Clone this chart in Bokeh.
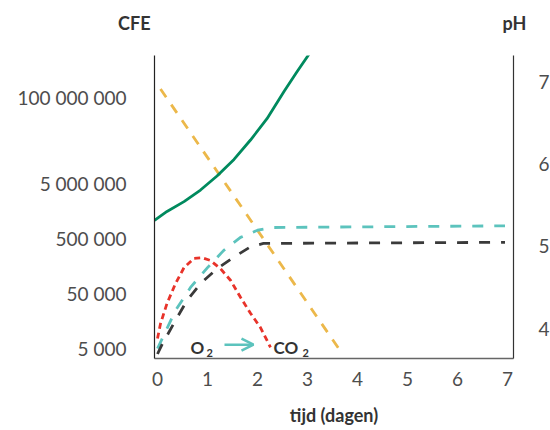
import numpy as np
from bokeh.plotting import figure
from bokeh.layouts import column
from bokeh.models import LinearAxis, Range1d, FixedTicker, Label, Arrow, OpenHead
from bokeh.embed import file_html
from bokeh.resources import INLINE

# ---------------- data ----------------
day_ticks = [0, 1, 2, 3, 4, 5, 6, 7]
cfe_tick_values = [5000, 50000, 500000, 5000000, 100000000]
cfe_tick_labels = ["5 000", "50 000", "500 000", "5 000 000", "100 000 000"]
cfe_axis_levels = [0, 1, 2, 3, 4.56]   # stylised (non-uniform) CFE axis
ph_ticks = [4, 5, 6, 7]
left_title = "CFE"
right_title = "pH"

green_days = [-0.06, 0.19, 0.53, 0.86, 1.19, 1.53, 1.86, 2.19, 2.53, 2.79, 3.03]
green_cfe = [1070000, 1550000, 2340000, 3800000, 6500000, 11600000,
             22800000, 48000000, 124000000, 247000000, 456000000]

teal_days = [0.0, 0.36, 0.66, 1.0, 1.32, 1.66, 2.0, 2.32, 6.95]
teal_cfe = [5000, 24500, 64400, 147600, 301000, 524000, 706000, 792000, 849000]

black_days = [0.0, 0.09, 0.36, 0.59, 0.86, 1.19, 1.53, 1.86, 2.12, 6.95]
black_cfe = [3970, 5870, 16200, 37100, 75700, 141000, 229000, 354000, 406000, 426000]

red_days = [0.0, 0.06, 0.19, 0.36, 0.53, 0.73, 0.89, 1.06, 1.26, 1.46, 1.66, 1.86, 2.06, 2.26]
red_cfe = [7570, 14100, 33000, 75700, 147600, 218000, 223000, 199000, 141000,
           86900, 42600, 21800, 12000, 5240]

ph_days = [0.06, 3.62]
ph_values = [6.91, 3.76]

# ---------------- helpers ----------------
def cfe_to_level(v):
    lv = np.log10(np.asarray(v, dtype=float))
    lt = np.log10(cfe_tick_values)
    lev = np.asarray(cfe_axis_levels, dtype=float)
    out = np.interp(lv, lt, lev)
    hi = lv > lt[-1]
    out[hi] = lev[-1] + (lv[hi] - lt[-1]) * (lev[-1] - lev[-2]) / (lt[-1] - lt[-2])
    lo = lv < lt[0]
    out[lo] = lev[0] + (lv[lo] - lt[0]) * (lev[1] - lev[0]) / (lt[1] - lt[0])
    return out

FONT = "Lato"
LABEL_COLOR = "#4d4d4d"
DARK = "#333333"
GREEN = "#008a5e"
YELLOW = "#ecb84a"
TEAL = "#5cc3bd"
BLACK = "#3a3a3a"
RED = "#e8332a"

def strip_axis(ax):
    ax.major_tick_in = 0
    ax.major_tick_out = 0
    ax.minor_tick_in = 0
    ax.minor_tick_out = 0

# ---------------- header strip: axis titles as tick labels ----------------
top = figure(frame_width=359, height=45, x_range=Range1d(0, 1), y_range=Range1d(0, 45),
             output_backend="svg", toolbar_location=None,
             min_border_left=154, min_border_right=36, min_border_top=0, min_border_bottom=0)
top.xaxis.visible = False
top.xgrid.visible = False
top.ygrid.visible = False
top.outline_line_color = None
tl = top.yaxis[0]
tl.ticker = FixedTicker(ticks=[23])
tl.major_label_overrides = {23: left_title}
tl.major_label_standoff = 4
tr = LinearAxis(ticker=FixedTicker(ticks=[23]))
tr.major_label_overrides = {23: right_title}
tr.major_label_standoff = -11
top.add_layout(tr, "right")
for ax in (tl, tr):
    strip_axis(ax)
    ax.axis_line_color = None
    ax.major_label_text_font = FONT
    ax.major_label_text_font_size = "18px"
    ax.major_label_text_font_style = "bold"
    ax.major_label_text_color = DARK

# ---------------- main chart ----------------
p = figure(frame_width=359, frame_height=303,
           x_range=Range1d(-0.06, 7.12), y_range=Range1d(-0.182, 5.327),
           output_backend="svg", toolbar_location=None,
           min_border_left=154, min_border_right=36, min_border_top=10, min_border_bottom=70)
p.outline_line_color = None
p.xgrid.visible = False
p.ygrid.visible = False
p.extra_y_ranges = {"ph": Range1d(3.636, 7.316)}

ya = p.yaxis[0]
ya.ticker = FixedTicker(ticks=cfe_axis_levels)
ya.major_label_overrides = {float(k): lab for k, lab in zip(cfe_axis_levels, cfe_tick_labels)}
ya.major_label_standoff = 28
ya.axis_line_color = "#222222"
ya.axis_line_width = 1.2

xa = p.xaxis[0]
xa.ticker = FixedTicker(ticks=day_ticks)
xa.major_label_standoff = 13
xa.axis_line_color = "#666666"
xa.axis_line_width = 1.5
xa.axis_label = "tijd (dagen)"
xa.axis_label_standoff = 15

ra = LinearAxis(y_range_name="ph", ticker=FixedTicker(ticks=ph_ticks))
ra.major_label_standoff = 25
ra.axis_line_color = "#333333"
ra.axis_line_width = 1.2
p.add_layout(ra, "right")

for ax in (ya, xa, ra):
    strip_axis(ax)
    ax.major_label_text_font = FONT
    ax.major_label_text_font_size = "19px"
    ax.major_label_text_color = LABEL_COLOR
    ax.axis_label_text_font = FONT
    ax.axis_label_text_font_size = "18px"
    ax.axis_label_text_font_style = "bold"
    ax.axis_label_text_color = DARK

# ---------------- lines ----------------
p.line(ph_days, ph_values, y_range_name="ph", line_color=YELLOW, line_width=2.8, line_dash="10 9")
p.line(teal_days, cfe_to_level(teal_cfe), line_color=TEAL, line_width=2.8, line_dash="11 11")
p.line(black_days, cfe_to_level(black_cfe), line_color=BLACK, line_width=2.8, line_dash="11 11")
p.line(red_days, cfe_to_level(red_cfe), line_color=RED, line_width=2.8, line_dash="6 4")
p.line(green_days, cfe_to_level(green_cfe), line_color=GREEN, line_width=2.8)

# ---------------- O2 -> CO2 annotation ----------------
def add_label(x, y, text, size):
    p.add_layout(Label(x=x, y=y, text=text, text_font=FONT, text_font_size=size,
                       text_font_style="bold", text_color=DARK,
                       text_align="left", text_baseline="alphabetic"))

add_label(0.66, 0.02, "O", "17px")
add_label(0.98, -0.09, "2", "11px")
add_label(2.32, 0.02, "CO", "17px")
add_label(2.9, -0.09, "2", "11px")

p.add_layout(Arrow(end=OpenHead(size=12, line_color=TEAL, line_width=2.5),
                   x_start=1.34, y_start=0.07, x_end=1.92, y_end=0.07,
                   line_color=TEAL, line_width=2.5))

layout = column(top, p, spacing=0)
open("out.html", "w").write(file_html(layout, INLINE))
